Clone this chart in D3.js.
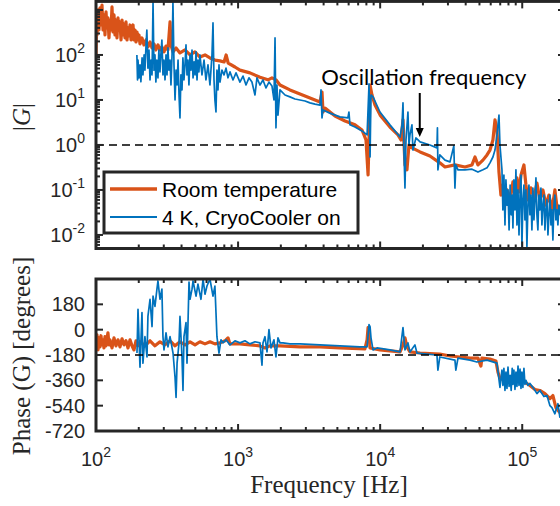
<!DOCTYPE html>
<html lang="en">
<head>
<meta charset="UTF-8">
<title>Transfer function G</title>
<script src="https://d3js.org/d3.v7.min.js"></script>
<style>
  body { margin: 0; background: #fff; }
  svg { display: block; }
  .tick-label { font-family: "Liberation Sans", Arial, sans-serif; font-size: 20px; fill: #262626; }
  .axis-title { font-family: "Liberation Serif", "Times New Roman", serif; font-size: 25px; fill: #262626; }
  .legend-text { font-family: "Liberation Sans", Arial, sans-serif; font-size: 21px; fill: #000; }
  .note { font-family: Lato, "Open Sans", sans-serif; font-size: 22px; fill: #000; }
</style>
</head>
<body>
<svg id="bode" width="560" height="506"></svg>
<script>
// ---- data: [frequency Hz, value] ----
var roomMag = [[100,90],[101,600],[101.6,278],[103.3,1000],[105,359],[106.7,1108],[108.4,464],[110.2,1290],[112,359],[113.8,774],[115.7,278],[117.6,903],[119.5,398],[121.4,664],[123.4,239],[125.4,599],[127.5,359],[129.6,1166],[131.7,324],[133.9,774],[136,278],[138.3,599],[140.5,239],[142.8,664],[145.2,359],[147.5,541],[150,215],[152.4,599],[154.9,278],[157.4,488],[160,239],[162.6,541],[165.3,215],[168,398],[170.7,264],[173.5,464],[176.4,215],[179.2,359],[182.2,464],[185.1,215],[188.1,359],[191.2,194],[194.3,324],[197.5,215],[200.7,278],[204,176],[210.7,239],[217.7,167],[224.9,215],[232.3,151],[240,194],[248,143],[256,176],[264,129],[273,167],[282,129],[291,151],[301,117],[311,158],[321,129],[332,541],[337,167],[348,117],[366,143],[390,111],[423,129],[459,100],[497,117],[539,90],[585,100],[634,86],[687,77],[746,74],[797,70],[824,100],[852,66],[951,54],[1031,46],[1212,40],[1426,32],[1623,28],[1732,31],[1848,28],[1972,21.5],[2318,16.7],[2727,13.6],[3207,11.1],[3773,9.0],[3897,15],[3960,5.4],[4090,6.6],[4810,4.4],[5660,3.4],[6650,2.8],[7450,2.15],[7950,1.3],[8220,0.215],[8350,1.3],[8490,21.5],[8760,12.9],[9200,7.7],[10000,4.6],[11720,2.5],[13350,1.67],[14020,1.29],[14480,3.6],[14950,0.36],[15440,0.28],[15950,1],[16740,0.86],[19100,0.7],[22400,0.57],[26300,0.4],[28600,0.324],[33600,0.36],[39500,0.324],[44300,0.36],[46500,0.54],[48800,0.36],[52900,0.46],[56500,0.6],[59300,0.77],[62200,1.29],[64300,3.6],[66400,2.15],[68600,0.25],[70800,0.077],[73100,0.129],[75600,0.046],[78100,0.1],[82200,0.06],[86000,0.151],[88900,0.077],[91800,0.185],[94900,0.09],[98000,0.215],[102800,0.36],[106200,0.129],[109700,0.06],[115100,0.111],[120900,0.066],[126900,0.143],[133200,0.06],[139900,0.1],[146900,0.046],[154200,0.077],[161800,0.036],[169800,0.1],[178300,0.028],[184300,0.046]];

var cryoMag = [[194,100],[196,27.8],[197.5,77],[200.7,30.8],[204,60],[207,25.3],[211,86],[214,36],[218,100],[221,46],[225,167],[228,359],[232,51],[236,129],[240,27.8],[244,77],[248,36],[252,1500],[256,46],[260,100],[264,25],[268,77],[273,31],[277,129],[282,42],[286,100],[291,215],[296,36],[301,77],[306,28],[311,100],[316,36],[321,143],[326,46],[332,77],[337,21.5],[343,100],[348,1500],[354,60],[360,10],[366,46],[372,21.5],[378,77],[384,12.9],[390,4.0],[396,36],[403,16.7],[409,86],[416,27.8],[423,60],[430,167],[437,36],[444,77],[451,21.5],[459,100],[466,46],[474,129],[482,31],[490,70],[498,36],[506,117],[514,27.8],[522,77],[530,42],[539,100],[557,36],[576,77],[594,27.8],[614,60],[634,21.5],[655,100],[666,514],[677,27.8],[687,10],[699,5.4],[710,46],[722,16.7],[734,60],[746,25],[770,46],[796,36],[822,51],[849,31],[877,42],[921,27.8],[967,40],[1031,25],[1083,34],[1137,21.5],[1193,31],[1252,25],[1315,12.9],[1358,31],[1426,21.5],[1497,27.8],[1572,18.5],[1650,25],[1732,20.5],[1789,10],[1820,239],[1848,2.4],[1878,21.5],[1909,4.6],[1972,16.7],[2140,12.9],[2318,11.7],[2515,10.5],[2727,10],[2960,9.5],[3207,8.6],[3480,8.1],[3773,7.7],[3834,16.7],[3897,4.0],[3960,6.0],[4420,5.1],[5210,4.2],[5930,4.0],[6030,5.4],[6130,2.8],[6650,2.5],[7450,2.05],[8090,1.67],[8350,22.7],[8490,0.54],[8620,12.9],[8910,11.7],[9970,5.4],[11720,2.8],[13800,1.5],[14250,2.8],[14480,8.6],[14700,0.77],[14950,0.11],[15200,1.29],[15690,5.4],[15950,1.0],[16210,1.67],[16740,2.8],[17010,0.77],[17860,1.43],[19100,1.17],[22400,1.0],[25100,0.86],[25300,2.4],[25500,0.28],[26300,0.6],[28600,0.46],[31000,0.42],[33000,0.95],[33600,0.11],[34100,0.36],[35300,0.28],[39500,0.28],[44300,0.29],[48800,0.25],[52900,0.28],[56500,0.31],[59300,0.4],[62200,0.54],[64300,0.77],[66400,1.67],[68600,4.6],[69700,1.0],[72000,0.28],[73100,0.036],[74300,0.215],[75600,0.0167],[76800,0.167],[78100,0.046],[79400,0.1],[80800,0.0129],[82200,0.129],[83600,0.028],[85000,0.077],[86000,0.0143],[87400,0.167],[88900,0.036],[90300,0.28],[91800,0.0167],[93400,0.1],[94900,0.01],[96500,0.077],[98000,0.215],[99500,0.0054],[101100,0.06],[102800,0.129],[104500,0.0215],[106200,0.1],[107900,0.0054],[109700,0.046],[111500,0.129],[113300,0.028],[115100,0.077],[117000,0.0129],[118900,0.11],[120900,0.0215],[122900,0.06],[124900,0.185],[126900,0.028],[128900,0.0129],[131000,0.077],[133200,0.036],[135400,0.11],[137600,0.0167],[139900,0.046],[142200,0.077],[144500,0.0129],[146900,0.036],[149300,0.06],[151700,0.01],[154200,0.028],[156700,0.077],[159300,0.0167],[161800,0.036],[164400,0.0077],[167100,0.046],[169800,0.077],[172600,0.0215],[175500,0.036],[178300,0.0167],[181300,0.046],[184300,0.028]];

var roomPhase = [[100,-108],[101.6,-36],[103.3,-144],[105,-58],[106.7,-122],[108.4,-43],[110.2,-108],[112,-72],[113.8,-130],[115.7,-50],[117.6,-115],[119.5,-65],[121.4,-22],[123.4,-108],[125.4,-72],[129.6,-130],[133.9,-58],[138.3,-115],[142.8,-72],[147.5,-122],[152.4,-65],[157.4,-108],[162.6,-79],[168,-130],[173.5,-72],[179.2,-115],[185.1,-144],[191.2,-79],[197.5,-115],[204,-86],[221,-115],[240,-79],[260,-115],[282,-86],[306,-108],[332,-79],[360,-115],[390,-86],[423,-108],[459,-86],[498,-108],[539,-86],[585,-101],[634,-86],[687,-101],[746,-94],[809,-79],[849,-58],[877,-101],[1031,-101],[1212,-108],[1426,-115],[1546,-130],[1676,-115],[1972,-115],[2727,-122],[3773,-122],[5210,-130],[7810,-137],[8090,-72],[8220,14],[8350,-43],[8490,-130],[9970,-144],[13800,-158],[14480,-108],[14950,-58],[15440,-122],[16210,-158],[19100,-166],[26300,-173],[31000,-187],[36500,-194],[42900,-202],[48800,-202],[51200,-259],[52000,-202],[59300,-209],[65300,-223],[67500,-302],[69700,-346],[75600,-360],[82200,-346],[88900,-367],[96500,-353],[104500,-374],[113300,-396],[122900,-425],[133200,-432],[144500,-454],[156700,-490],[164400,-468],[172600,-554],[184300,-590]];

var cryoPhase = [[194.3,-166],[197.5,144],[204,-266],[210.7,122],[214,-238],[221,-50],[228.5,-194],[232,94],[240,216],[248,22],[252,238],[260,166],[268.5,288],[273,346],[282,216],[291,288],[296,-50],[301,-144],[311,-22],[321,-122],[332,-50],[348.5,-166],[360,-338],[366,-482],[372,-238],[384,-94],[390,94],[403,-194],[409.5,-432],[416,-50],[430,50],[437,-238],[451.5,338],[459,216],[474,288],[482,346],[506,238],[522,324],[548,216],[567,360],[585,252],[604,310],[634,360],[666,238],[687,310],[699,122],[710,-50],[734,-166],[758,-72],[783,-94],[822,-72],[877,-108],[951,-79],[1031,-94],[1118,-79],[1212,-101],[1315,-86],[1426,-94],[1473,-252],[1497,-94],[1546,-50],[1598,-158],[1650,0],[1704,-130],[1789,-72],[1848,-194],[1909,-58],[1972,-94],[2070,-94],[2318,-101],[2727,-101],[3773,-108],[5210,-115],[7210,-122],[8090,-122],[8350,36],[8490,22],[8620,-58],[8910,-144],[9510,-130],[11720,-144],[13800,-158],[14480,14],[14950,-144],[15690,-94],[16210,-158],[17570,-108],[18150,-166],[25100,-180],[25500,-288],[26300,-194],[33600,-216],[34100,-288],[35300,-202],[42900,-216],[48000,-230],[56500,-216],[66400,-238],[69700,-410],[72000,-288],[73100,-396],[74300,-274],[75600,-432],[76800,-302],[78100,-418],[79400,-266],[80800,-403],[82200,-324],[83600,-432],[85000,-274],[86000,-389],[87400,-288],[88900,-425],[90300,-302],[91800,-403],[93400,-259],[94900,-396],[96500,-281],[98000,-418],[99500,-302],[101100,-410],[102800,-274],[104500,-389],[106200,-360],[109700,-396],[113300,-382],[118900,-410],[126900,-454],[133200,-432],[142200,-475],[149300,-468],[156700,-540],[161800,-554],[169800,-598],[178300,-526],[184300,-626]];

// ticks and labels
var freqTicks = [1e2, 1e3, 1e4, 1e5];
var magTicks = [1e-2, 1e-1, 1e0, 1e1, 1e2];
var phaseTicks = [-720, -540, -360, -180, 0, 180];
var seriesNames = ["Room temperature", "4 K, CryoCooler on"];
var seriesColors = ["#D95319", "#0072BD"];
var magRef = 1, phaseRef = -180;
var noteText = "Oscillation frequency", noteFreq = 1.9e4;

var svg = d3.select("#bode");
var ink = "#262626";

var x = d3.scaleLog().domain([100, 2e5]).range([96, 565]);
var yMag = d3.scaleLog().domain([0.005, 1550]).range([248.5, 1.4]);
var yPh = d3.scaleLinear().domain([-720, 360]).range([431, 279]);

var panels = [
  {id: "mag", y: yMag, series: [roomMag, cryoMag], ref: magRef, log: true},
  {id: "ph", y: yPh, series: [roomPhase, cryoPhase], ref: phaseRef, log: false}
];

// log minor ticks for the frequency axis
var xMinor = [];
for (var e = 2; e <= 5; e++) for (var k = 2; k <= 9; k++) if (k * Math.pow(10, e) < 2e5) xMinor.push(k * Math.pow(10, e));
var magMinor = [];
for (var e2 = -3; e2 <= 3; e2++) for (var k2 = 2; k2 <= 9; k2++) {
  var v = k2 * Math.pow(10, e2);
  if (v > 0.005 && v < 1550) magMinor.push(v);
}

panels.forEach(function (p) {
  var x0 = x.range()[0], x1 = x.range()[1];
  var yTop = p.y.range()[1], yBot = p.y.range()[0];
  var g = svg.append("g");

  g.append("clipPath").attr("id", "clip-" + p.id)
    .append("rect").attr("x", x0).attr("y", yTop).attr("width", x1 - x0).attr("height", yBot - yTop);

  var plot = g.append("g").attr("clip-path", "url(#clip-" + p.id + ")");
  var line = d3.line().x(function (d) { return x(d[0]); }).y(function (d) { return p.y(d[1]); });

  plot.append("path").datum(p.series[0]).attr("d", line)
    .attr("fill", "none").attr("stroke", seriesColors[0]).attr("stroke-width", 3.2)
    .attr("stroke-linejoin", "round");
  plot.append("path").datum(p.series[1]).attr("d", line)
    .attr("fill", "none").attr("stroke", seriesColors[1]).attr("stroke-width", 1.7)
    .attr("stroke-linejoin", "round");

  // dashed reference line
  plot.append("line")
    .attr("x1", x0).attr("x2", x1).attr("y1", p.y(p.ref)).attr("y2", p.y(p.ref))
    .attr("stroke", "#000").attr("stroke-width", 1.5).attr("stroke-dasharray", "8,5");

  // x ticks (bottom and top, inward)
  function xTick(vals, len) {
    vals.forEach(function (v) {
      g.append("line").attr("x1", x(v)).attr("x2", x(v)).attr("y1", yBot).attr("y2", yBot - len)
        .attr("stroke", ink).attr("stroke-width", 2);
      g.append("line").attr("x1", x(v)).attr("x2", x(v)).attr("y1", yTop).attr("y2", yTop + len)
        .attr("stroke", ink).attr("stroke-width", 2);
    });
  }
  xTick(freqTicks, 7);
  xTick(xMinor, 4);

  // y ticks (left and right, inward)
  function yTick(vals, len) {
    vals.forEach(function (v) {
      g.append("line").attr("x1", x0).attr("x2", x0 + len).attr("y1", p.y(v)).attr("y2", p.y(v))
        .attr("stroke", ink).attr("stroke-width", 2);
      g.append("line").attr("x1", x1).attr("x2", x1 - len).attr("y1", p.y(v)).attr("y2", p.y(v))
        .attr("stroke", ink).attr("stroke-width", 2);
    });
  }
  if (p.log) {
    yTick([1e3].concat(magTicks), 7);
    yTick(magMinor, 4);
  } else {
    yTick(phaseTicks, 7);
  }

  // frame
  g.append("rect").attr("x", x0).attr("y", yTop).attr("width", x1 - x0).attr("height", yBot - yTop)
    .attr("fill", "none").attr("stroke", ink).attr("stroke-width", 3);
});

// y tick labels, magnitude
magTicks.forEach(function (v) {
  var t = svg.append("text").attr("class", "tick-label").attr("text-anchor", "end")
    .attr("x", 85).attr("y", yMag(v) + 7);
  t.append("tspan").text("10");
  t.append("tspan").attr("dy", -9).attr("font-size", 14).text(Math.round(Math.log10(v)));
});

// y tick labels, phase
phaseTicks.forEach(function (v) {
  svg.append("text").attr("class", "tick-label").attr("text-anchor", "end")
    .attr("x", 85).attr("y", yPh(v) + 7).text(v);
});

// x tick labels
freqTicks.forEach(function (v) {
  var t = svg.append("text").attr("class", "tick-label").attr("text-anchor", "middle")
    .attr("x", x(v)).attr("y", 466);
  t.append("tspan").text("10");
  t.append("tspan").attr("dy", -9).attr("font-size", 14).text(Math.round(Math.log10(v)));
});

// axis titles
svg.append("text").attr("class", "axis-title").attr("text-anchor", "middle")
  .attr("x", 329).attr("y", 493).text("Frequency [Hz]");
var gl = svg.append("text").attr("class", "axis-title").attr("text-anchor", "middle")
  .attr("transform", "translate(30,117) rotate(-90)");
gl.append("tspan").text("|");
gl.append("tspan").attr("font-style", "italic").text("G");
gl.append("tspan").text("|");
svg.append("text").attr("class", "axis-title").attr("text-anchor", "middle")
  .attr("transform", "translate(30,356) rotate(-90)").text("Phase (G) [degrees]");

// annotation
svg.append("text").attr("class", "note").attr("text-anchor", "middle")
  .attr("x", x(noteFreq) + 4).attr("y", 85).text(noteText);
svg.append("line").attr("x1", x(noteFreq)).attr("x2", x(noteFreq))
  .attr("y1", 93).attr("y2", 130).attr("stroke", "#000").attr("stroke-width", 2);
svg.append("path")
  .attr("d", "M" + (x(noteFreq) - 4) + ",128 L" + (x(noteFreq) + 4) + ",128 L" + x(noteFreq) + ",137 Z")
  .attr("fill", "#000");

// legend
var lg = svg.append("g");
lg.append("rect").attr("x", 104).attr("y", 172).attr("width", 254).attr("height", 61)
  .attr("fill", "#fff").attr("stroke", ink).attr("stroke-width", 3);
seriesNames.forEach(function (name, i) {
  var yy = 189 + i * 28;
  lg.append("line").attr("x1", 110).attr("x2", 157).attr("y1", yy).attr("y2", yy)
    .attr("stroke", seriesColors[i]).attr("stroke-width", i === 0 ? 3.5 : 1.8);
  lg.append("text").attr("class", "legend-text").attr("x", 162).attr("y", yy + 8).text(name);
});
</script>
</body>
</html>
